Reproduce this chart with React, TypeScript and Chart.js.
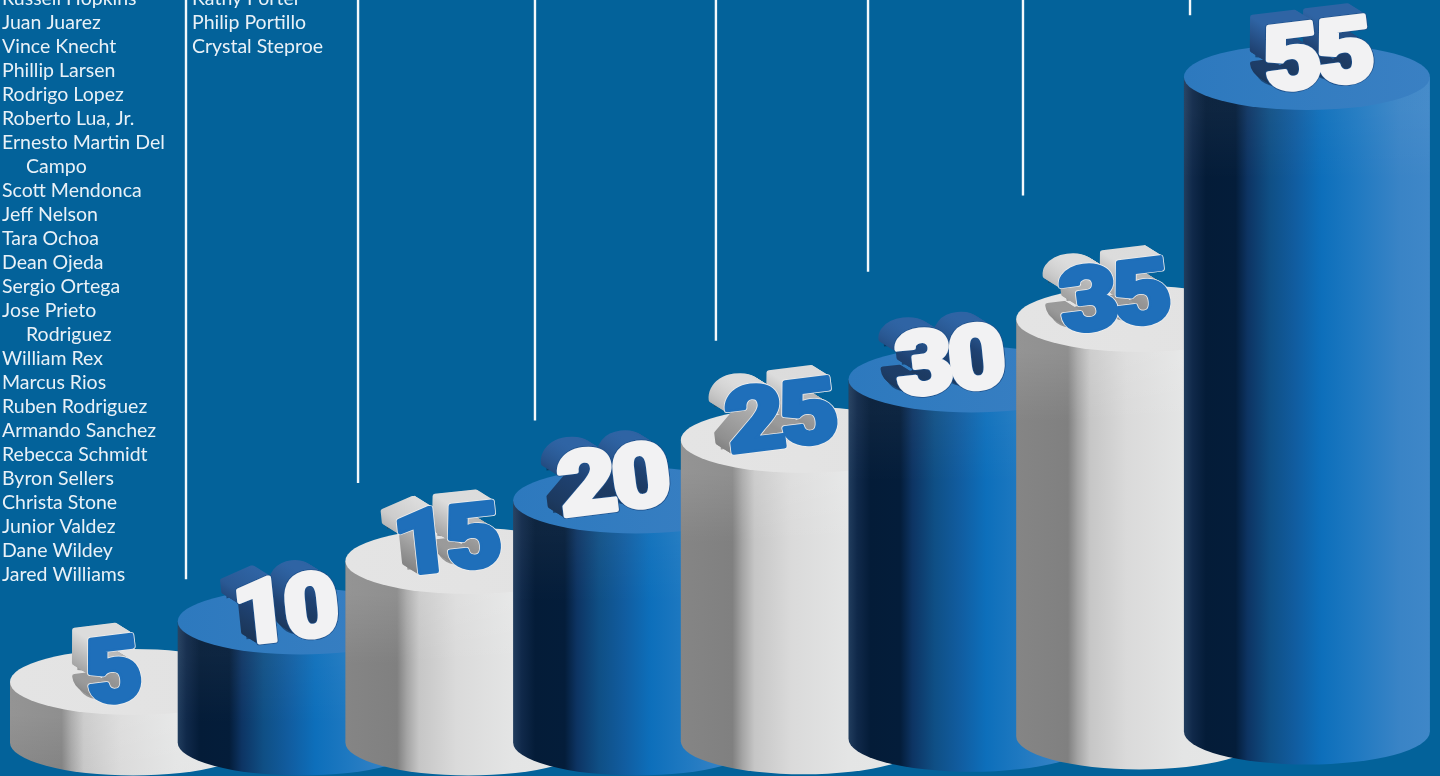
import { useEffect, useRef } from "react";
import { Chart, BarElement, registerables } from "chart.js";

// Years of service on each cylinder
const years = [5, 10, 15, 20, 25, 30, 35, 55];
const yearLabels = ["5 years", "10 years", "15 years", "20 years", "25 years", "30 years", "35 years", "55 years"];
// Where each cylinder's floor sits on the value axis; the row drifts up slightly to the right
const floors = [0, 0, 0, 0, 0.1, 0.3, 0.5, 0.9];
const capColours = ["#e3e3e3", "#2e7abf", "#e3e3e3", "#2e7abf", "#e3e3e3", "#2e7abf", "#e3e3e3", "#2e7abf"];

// Honouree names, one array per visible column; "  " marks a wrapped line
const fiveYearNames = [
  "Russell Hopkins", "Juan Juarez", "Vince Knecht", "Phillip Larsen", "Rodrigo Lopez", "Roberto Lua, Jr.",
  "Ernesto Martin Del", "  Campo", "Scott Mendonca", "Jeff Nelson", "Tara Ochoa", "Dean Ojeda", "Sergio Ortega",
  "Jose Prieto", "  Rodriguez", "William Rex", "Marcus Rios", "Ruben Rodriguez", "Armando Sanchez",
  "Rebecca Schmidt", "Byron Sellers", "Christa Stone", "Junior Valdez", "Dane Wildey", "Jared Williams",
];
const tenYearNames = ["Kathy Porter", "Philip Portillo", "Crystal Steproe"];

// Column dividers: position in category units, and the value where each one stops
const dividerColumns = [0.316, 1.342, 2.397, 3.476, 4.383, 5.307, 6.303];
const dividerEnds = [13.5, 21.45, 26.6, 33.2, 38.9, 45.2, 60.1];

const BACKGROUND = "#03629a";
const CAP_RY = 33;

type Stop = [number, string];
const GREY_BODY: Stop[] = [
  [0, "#858585"], [0.21, "#808080"], [0.25, "#a4a4a4"], [0.3, "#c6c6c6"], [0.45, "#dadada"], [0.68, "#e4e5e5"], [1, "#e6e7e7"],
];
const BLUE_BODY: Stop[] = [
  [0, "#213d5e"], [0.035, "#10294a"], [0.09, "#041c38"], [0.21, "#041d3a"], [0.26, "#0d3463"], [0.35, "#0f4f85"],
  [0.45, "#115c9f"], [0.56, "#0d6fbb"], [0.7, "#1f79c1"], [0.88, "#3a84c6"], [1, "#3f87c8"],
];

// Digit placement relative to the top of each cylinder
const digitStyle = [
  { dx: -20, dy: -12, rot: -7, w: 55 },
  { dx: -13, dy: -14, rot: -6, w: 100 },
  { dx: -19, dy: -23, rot: -6, w: 102 },
  { dx: -23, dy: -22, rot: -7, w: 112 },
  { dx: -23, dy: -25, rot: -7, w: 112 },
  { dx: -22, dy: -20, rot: -6, w: 110 },
  { dx: -25, dy: -24, rot: -7, w: 111 },
  { dx: 11, dy: -23, rot: -7, w: 110 },
];
const DIGIT_HEIGHT = 65;
const DIGIT_WEIGHT = 5;
const EXTRUDE = { x: -16, y: -10, layers: 16 };

// A bar that paints itself as an upright cylinder, with its cap on top
class CylinderBar extends BarElement {
  static id = "cylinderBar";
  draw(ctx: CanvasRenderingContext2D) {
    const { x, y, base, width } = (this as any).getProps(["x", "y", "base", "width"], true);
    const cap = (this as any).options.backgroundColor as string;
    const grey = cap === "#e3e3e3";
    const rx = width / 2;
    const left = x - rx;
    const right = x + rx;

    const body = ctx.createLinearGradient(left, 0, right, 0);
    (grey ? GREY_BODY : BLUE_BODY).forEach(([o, c]) => body.addColorStop(o, c));
    ctx.save();
    ctx.beginPath();
    ctx.moveTo(left, y);
    ctx.lineTo(left, base);
    ctx.ellipse(x, base, rx, CAP_RY, 0, Math.PI, 0, true);
    ctx.lineTo(right, y);
    ctx.closePath();
    ctx.fillStyle = body;
    ctx.fill();

    // Light falling off just under the rim
    const rim = ctx.createLinearGradient(0, y + CAP_RY, 0, y + CAP_RY + 70);
    rim.addColorStop(0, grey ? "rgba(255,255,255,0.12)" : "rgba(255,255,255,0.04)");
    rim.addColorStop(1, "rgba(255,255,255,0)");
    ctx.clip();
    ctx.fillStyle = rim;
    ctx.fillRect(left, y, width, Math.min(base - y + CAP_RY, CAP_RY + 70));
    ctx.restore();

    const top = ctx.createLinearGradient(left, 0, right, 0);
    top.addColorStop(0, grey ? "#e4e4e4" : "#2d79be");
    top.addColorStop(1, grey ? "#e2e2e2" : "#3a80c3");
    ctx.beginPath();
    ctx.ellipse(x, y, rx, CAP_RY, 0, 0, Math.PI * 2);
    ctx.fillStyle = top;
    ctx.fill();
  }
}

Chart.register(...registerables, CylinderBar);
(Chart.defaults.datasets as any).bar.dataElementType = "cylinderBar";

const paintBackdrop = {
  id: "paintBackdrop",
  beforeDraw(chart: Chart) {
    const { ctx, width, height } = chart;
    ctx.save();
    ctx.fillStyle = BACKGROUND;
    ctx.fillRect(0, 0, width, height);
    ctx.restore();
  },
};

const namesAndDividers = {
  id: "namesAndDividers",
  beforeDatasetsDraw(chart: Chart) {
    const { ctx } = chart;
    const xs = chart.scales.x;
    const ys = chart.scales.y;
    ctx.save();
    ctx.strokeStyle = "#f4f8fb";
    ctx.lineWidth = 2.4;
    dividerColumns.forEach((c, i) => {
      const px = xs.getPixelForValue(c);
      ctx.beginPath();
      ctx.moveTo(px, 0);
      ctx.lineTo(px, ys.getPixelForValue(dividerEnds[i]));
      ctx.stroke();
    });

    ctx.font = '400 19.5px Lato';
    ctx.fillStyle = "#e9f1f7";
    ctx.textBaseline = "alphabetic";
    const column = (names: string[], x: number, firstBaseline: number) => {
      names.forEach((n, i) => {
        const wrapped = n.startsWith("  ");
        ctx.fillText(n.trim(), x + (wrapped ? 24 : 0), firstBaseline + i * 24);
      });
    };
    column(fiveYearNames, 2, 5);
    column(tenYearNames, 192, 5);
    ctx.restore();
  },
};

const blockDigits = {
  id: "blockDigits",
  afterDatasetsDraw(chart: Chart) {
    const { ctx } = chart;
    const bars = chart.getDatasetMeta(0).data as any[];
    bars.forEach((bar, i) => {
      const grey = capColours[i] === "#e3e3e3";
      const text = String(years[i]);
      const st = digitStyle[i];
      const cx = bar.x + st.dx;
      const cy = bar.y + st.dy;

      ctx.save();
      ctx.font = "900 100px Roboto";
      (ctx as any).letterSpacing = "-5px";
      ctx.textAlign = "left";
      ctx.textBaseline = "alphabetic";
      ctx.lineJoin = "round";
      const m = ctx.measureText(text);
      const bw = m.actualBoundingBoxLeft + m.actualBoundingBoxRight;
      const bh = m.actualBoundingBoxAscent + m.actualBoundingBoxDescent;
      const sx = (st.w - DIGIT_WEIGHT) / bw;
      const sy = DIGIT_HEIGHT / bh;
      const ox = -bw / 2 + m.actualBoundingBoxLeft;
      const oy = bh / 2 - m.actualBoundingBoxDescent;
      const place = (tx: number, ty: number) => {
        ctx.setTransform(1, 0, 0, 1, 0, 0);
        ctx.translate(cx + tx, cy + ty);
        ctx.rotate((st.rot * Math.PI) / 180);
        ctx.scale(sx, sy);
      };

      // Contact shadow on the cap
      place(-13, -3);
      ctx.fillStyle = grey ? "rgba(60,60,60,0.45)" : "rgba(8,30,60,0.55)";
      ctx.fillText(text, ox, oy);

      // Extruded sides, from the back forward
      ctx.lineWidth = DIGIT_WEIGHT;
      for (let k = EXTRUDE.layers; k >= 1; k--) {
        const t = k / EXTRUDE.layers;
        place(EXTRUDE.x * t, EXTRUDE.y * t);
        const g = ctx.createLinearGradient(0, oy - bh, 0, oy);
        if (grey) {
          g.addColorStop(0, "#dcdcdc");
          g.addColorStop(0.5, "#a8a8a8");
          g.addColorStop(1, "#858585");
        } else {
          g.addColorStop(0, "#2f64a4");
          g.addColorStop(0.5, "#1f4272");
          g.addColorStop(1, "#1b3658");
        }
        ctx.fillStyle = g;
        ctx.strokeStyle = g;
        ctx.strokeText(text, ox, oy);
        ctx.fillText(text, ox, oy);
      }

      // Front face with a fine outline
      place(0, 0);
      ctx.lineWidth = DIGIT_WEIGHT + 1.6;
      ctx.strokeStyle = grey ? "#eeeeee" : "#1c4f8a";
      ctx.strokeText(text, ox, oy);
      ctx.lineWidth = DIGIT_WEIGHT;
      ctx.strokeStyle = grey ? "#1f6fba" : "#f2f2f3";
      ctx.strokeText(text, ox, oy);
      ctx.fillStyle = grey ? "#1f6fba" : "#f2f2f3";
      ctx.fillText(text, ox, oy);
      ctx.restore();
    });
  },
};

export default function App() {
  const ref = useRef<HTMLCanvasElement>(null);
  useEffect(() => {
    const chart = new Chart(ref.current!, {
      type: "bar",
      data: {
        labels: yearLabels,
        datasets: [
          {
            label: "Years of service",
            data: years.map((v, i) => [floors[i], v]) as any,
            backgroundColor: capColours,
            barThickness: 246,
            clip: false,
          },
        ],
      },
      options: {
        responsive: false,
        animation: false,
        devicePixelRatio: 1,
        layout: { padding: { left: 49.15, right: 49.25, top: 0, bottom: 0 } },
        scales: {
          x: { display: false },
          y: { display: false, min: -2.77, max: 61.36 },
        },
        plugins: { legend: { display: false }, tooltip: { enabled: false } },
      },
      plugins: [paintBackdrop, namesAndDividers, blockDigits],
    });
    return () => chart.destroy();
  }, []);
  return (
    <>
      <style>{`html,body{margin:0;padding:0;background:${BACKGROUND};overflow:hidden}`}</style>
      <canvas ref={ref} width={1440} height={776} style={{ display: "block" }} />
    </>
  );
}
